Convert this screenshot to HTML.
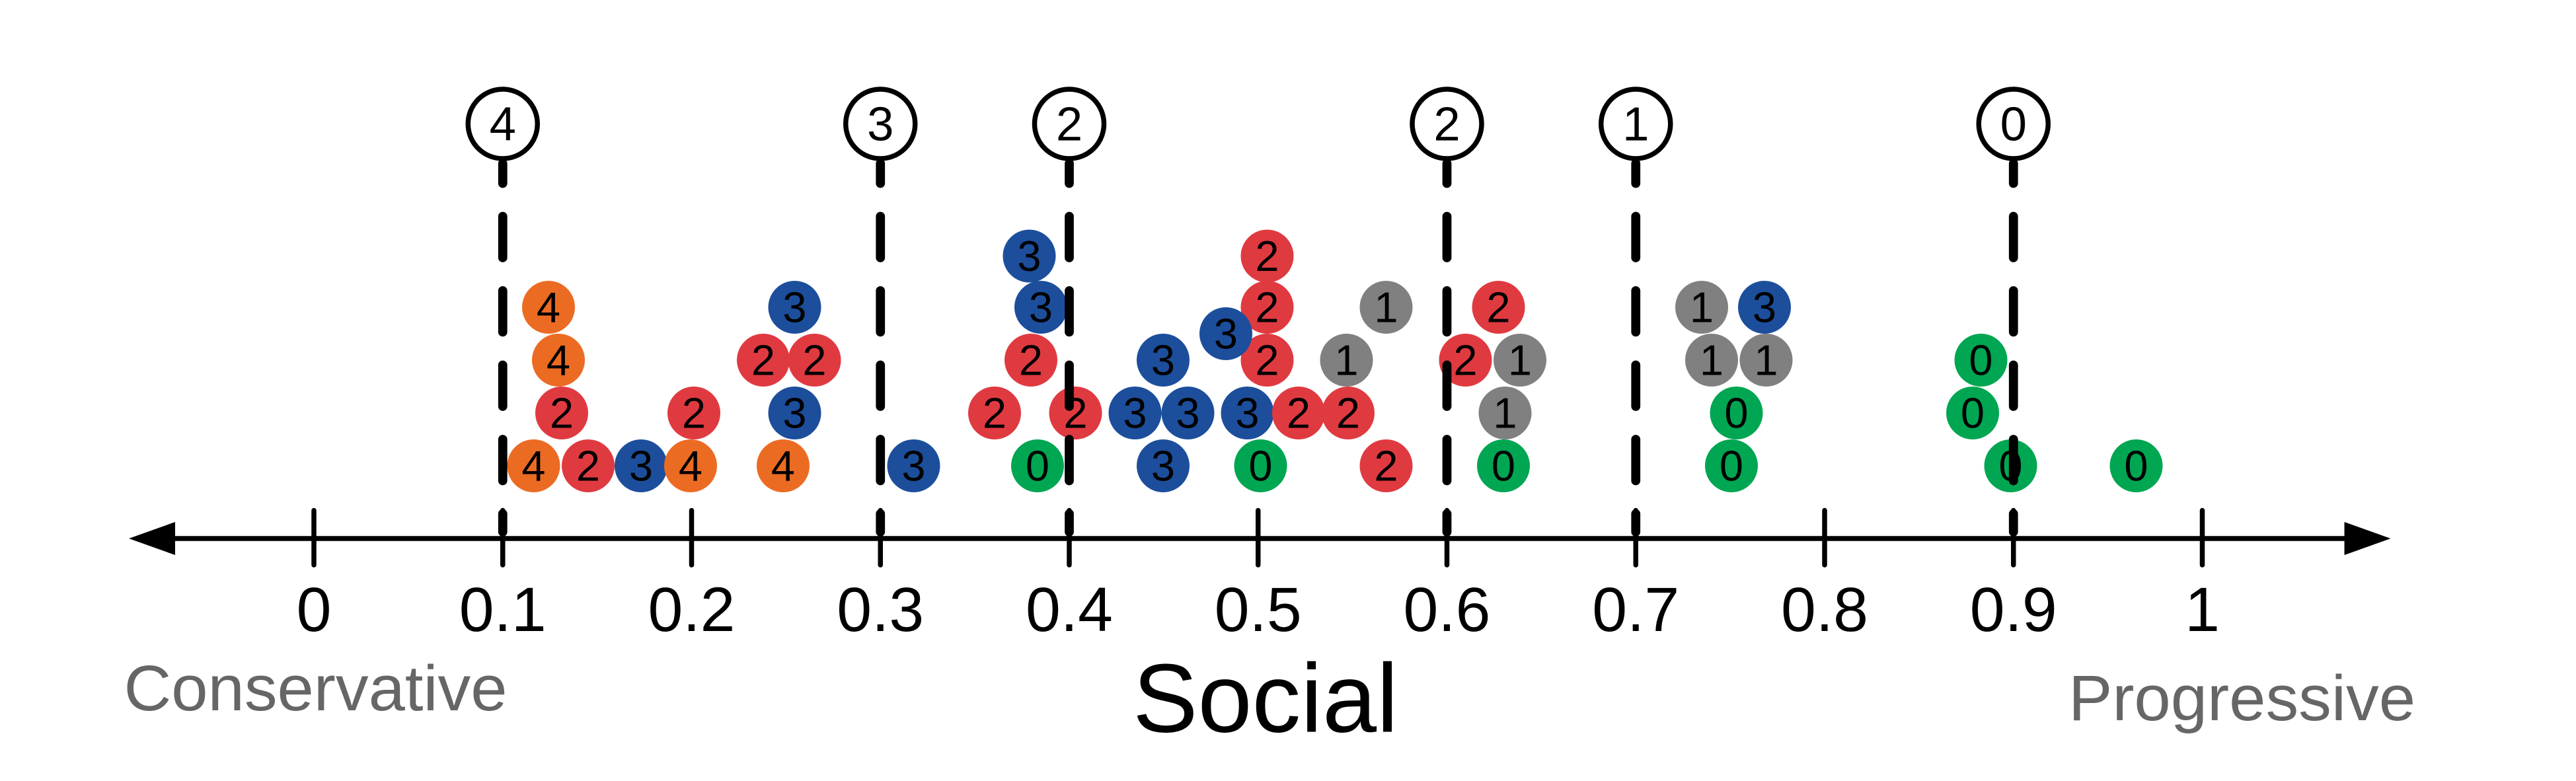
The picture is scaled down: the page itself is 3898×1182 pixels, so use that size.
<!DOCTYPE html>
<html><head><meta charset="utf-8"><style>
html,body{margin:0;padding:0;background:#fff;}
svg{display:block;}
text{font-family:"Liberation Sans",Arial,sans-serif;}
</style></head><body>
<svg width="3898" height="1182" viewBox="0 0 1559.2 472.8" xmlns="http://www.w3.org/2000/svg">
<rect width="1559.2" height="472.8" fill="#fff"/>
<line x1="100" y1="326" x2="1425" y2="326" stroke="#000" stroke-width="3"/>
<polygon points="78,326 106,316 106,336" fill="#000"/>
<polygon points="1447,326 1419,316 1419,336" fill="#000"/>
<g stroke="#000" stroke-width="3" stroke-linecap="round">
<line x1="190" y1="309" x2="190" y2="342"/>
<line x1="304.3" y1="309" x2="304.3" y2="342"/>
<line x1="418.6" y1="309" x2="418.6" y2="342"/>
<line x1="532.9" y1="309" x2="532.9" y2="342"/>
<line x1="647.2" y1="309" x2="647.2" y2="342"/>
<line x1="761.5" y1="309" x2="761.5" y2="342"/>
<line x1="875.8" y1="309" x2="875.8" y2="342"/>
<line x1="990.1" y1="309" x2="990.1" y2="342"/>
<line x1="1104.4" y1="309" x2="1104.4" y2="342"/>
<line x1="1218.7" y1="309" x2="1218.7" y2="342"/>
<line x1="1333" y1="309" x2="1333" y2="342"/>
</g>
<g font-size="38" text-anchor="middle" fill="#000">
<text x="190" y="382">0</text>
<text x="304.3" y="382">0.1</text>
<text x="418.6" y="382">0.2</text>
<text x="532.9" y="382">0.3</text>
<text x="647.2" y="382">0.4</text>
<text x="761.5" y="382">0.5</text>
<text x="875.8" y="382">0.6</text>
<text x="990.1" y="382">0.7</text>
<text x="1104.4" y="382">0.8</text>
<text x="1218.7" y="382">0.9</text>
<text x="1333" y="382">1</text>
</g>
<text x="75" y="430" font-size="39" fill="#666" textLength="232" lengthAdjust="spacingAndGlyphs">Conservative</text>
<text x="1252" y="436" font-size="39" fill="#666" textLength="210" lengthAdjust="spacingAndGlyphs">Progressive</text>
<text x="766" y="443" font-size="59" fill="#000" text-anchor="middle">Social</text>
<g font-size="26" text-anchor="middle">
<circle cx="323" cy="282" r="16" fill="#EC6B23"/><text x="323" y="291">4</text>
<circle cx="356" cy="282" r="16" fill="#E03A41"/><text x="356" y="291">2</text>
<circle cx="388" cy="282" r="16" fill="#1C4E9C"/><text x="388" y="291">3</text>
<circle cx="418" cy="282" r="16" fill="#EC6B23"/><text x="418" y="291">4</text>
<circle cx="474" cy="282" r="16" fill="#EC6B23"/><text x="474" y="291">4</text>
<circle cx="553" cy="282" r="16" fill="#1C4E9C"/><text x="553" y="291">3</text>
<circle cx="628" cy="282" r="16" fill="#00A651"/><text x="628" y="291">0</text>
<circle cx="704" cy="282" r="16" fill="#1C4E9C"/><text x="704" y="291">3</text>
<circle cx="763" cy="282" r="16" fill="#00A651"/><text x="763" y="291">0</text>
<circle cx="839" cy="282" r="16" fill="#E03A41"/><text x="839" y="291">2</text>
<circle cx="910" cy="282" r="16" fill="#00A651"/><text x="910" y="291">0</text>
<circle cx="1048" cy="282" r="16" fill="#00A651"/><text x="1048" y="291">0</text>
<circle cx="1217" cy="282" r="16" fill="#00A651"/><text x="1217" y="291">0</text>
<circle cx="1293" cy="282" r="16" fill="#00A651"/><text x="1293" y="291">0</text>
<circle cx="340" cy="250" r="16" fill="#E03A41"/><text x="340" y="259">2</text>
<circle cx="420" cy="250" r="16" fill="#E03A41"/><text x="420" y="259">2</text>
<circle cx="481" cy="250" r="16" fill="#1C4E9C"/><text x="481" y="259">3</text>
<circle cx="602" cy="250" r="16" fill="#E03A41"/><text x="602" y="259">2</text>
<circle cx="651" cy="250" r="16" fill="#E03A41"/><text x="651" y="259">2</text>
<circle cx="687" cy="250" r="16" fill="#1C4E9C"/><text x="687" y="259">3</text>
<circle cx="719" cy="250" r="16" fill="#1C4E9C"/><text x="719" y="259">3</text>
<circle cx="755" cy="250" r="16" fill="#1C4E9C"/><text x="755" y="259">3</text>
<circle cx="786" cy="250" r="16" fill="#E03A41"/><text x="786" y="259">2</text>
<circle cx="816" cy="250" r="16" fill="#E03A41"/><text x="816" y="259">2</text>
<circle cx="911" cy="250" r="16" fill="#808080"/><text x="911" y="259">1</text>
<circle cx="1051" cy="250" r="16" fill="#00A651"/><text x="1051" y="259">0</text>
<circle cx="1194" cy="250" r="16" fill="#00A651"/><text x="1194" y="259">0</text>
<circle cx="338" cy="218" r="16" fill="#EC6B23"/><text x="338" y="227">4</text>
<circle cx="462" cy="218" r="16" fill="#E03A41"/><text x="462" y="227">2</text>
<circle cx="493" cy="218" r="16" fill="#E03A41"/><text x="493" y="227">2</text>
<circle cx="624" cy="218" r="16" fill="#E03A41"/><text x="624" y="227">2</text>
<circle cx="704" cy="218" r="16" fill="#1C4E9C"/><text x="704" y="227">3</text>
<circle cx="767" cy="218" r="16" fill="#E03A41"/><text x="767" y="227">2</text>
<circle cx="815" cy="218" r="16" fill="#808080"/><text x="815" y="227">1</text>
<circle cx="887" cy="218" r="16" fill="#E03A41"/><text x="887" y="227">2</text>
<circle cx="920" cy="218" r="16" fill="#808080"/><text x="920" y="227">1</text>
<circle cx="1036" cy="218" r="16" fill="#808080"/><text x="1036" y="227">1</text>
<circle cx="1069" cy="218" r="16" fill="#808080"/><text x="1069" y="227">1</text>
<circle cx="1199" cy="218" r="16" fill="#00A651"/><text x="1199" y="227">0</text>
<circle cx="332" cy="186" r="16" fill="#EC6B23"/><text x="332" y="195">4</text>
<circle cx="481" cy="186" r="16" fill="#1C4E9C"/><text x="481" y="195">3</text>
<circle cx="630" cy="186" r="16" fill="#1C4E9C"/><text x="630" y="195">3</text>
<circle cx="767" cy="186" r="16" fill="#E03A41"/><text x="767" y="195">2</text>
<circle cx="839" cy="186" r="16" fill="#808080"/><text x="839" y="195">1</text>
<circle cx="907" cy="186" r="16" fill="#E03A41"/><text x="907" y="195">2</text>
<circle cx="1030" cy="186" r="16" fill="#808080"/><text x="1030" y="195">1</text>
<circle cx="1068" cy="186" r="16" fill="#1C4E9C"/><text x="1068" y="195">3</text>
<circle cx="742" cy="202" r="16" fill="#1C4E9C"/><text x="742" y="211">3</text>
<circle cx="623" cy="155" r="16" fill="#1C4E9C"/><text x="623" y="164">3</text>
<circle cx="767" cy="155" r="16" fill="#E03A41"/><text x="767" y="164">2</text>
</g>
<g stroke="#000" stroke-width="5.5" stroke-linecap="round" stroke-dasharray="25 20" stroke-dashoffset="13">
<line x1="304.3" y1="99" x2="304.3" y2="322"/>
<line x1="532.9" y1="99" x2="532.9" y2="322"/>
<line x1="647.2" y1="99" x2="647.2" y2="322"/>
<line x1="875.8" y1="99" x2="875.8" y2="322"/>
<line x1="990.1" y1="99" x2="990.1" y2="322"/>
<line x1="1218.7" y1="99" x2="1218.7" y2="322"/>
</g>
<g stroke="#000" stroke-width="3" fill="#fff">
<circle cx="304.3" cy="75" r="21"/>
<circle cx="532.9" cy="75" r="21"/>
<circle cx="647.2" cy="75" r="21"/>
<circle cx="875.8" cy="75" r="21"/>
<circle cx="990.1" cy="75" r="21"/>
<circle cx="1218.7" cy="75" r="21"/>
</g>
<g font-size="29" text-anchor="middle" fill="#000">
<text x="304.3" y="85">4</text>
<text x="532.9" y="85">3</text>
<text x="647.2" y="85">2</text>
<text x="875.8" y="85">2</text>
<text x="990.1" y="85">1</text>
<text x="1218.7" y="85">0</text>
</g>
</svg>
</body></html>
